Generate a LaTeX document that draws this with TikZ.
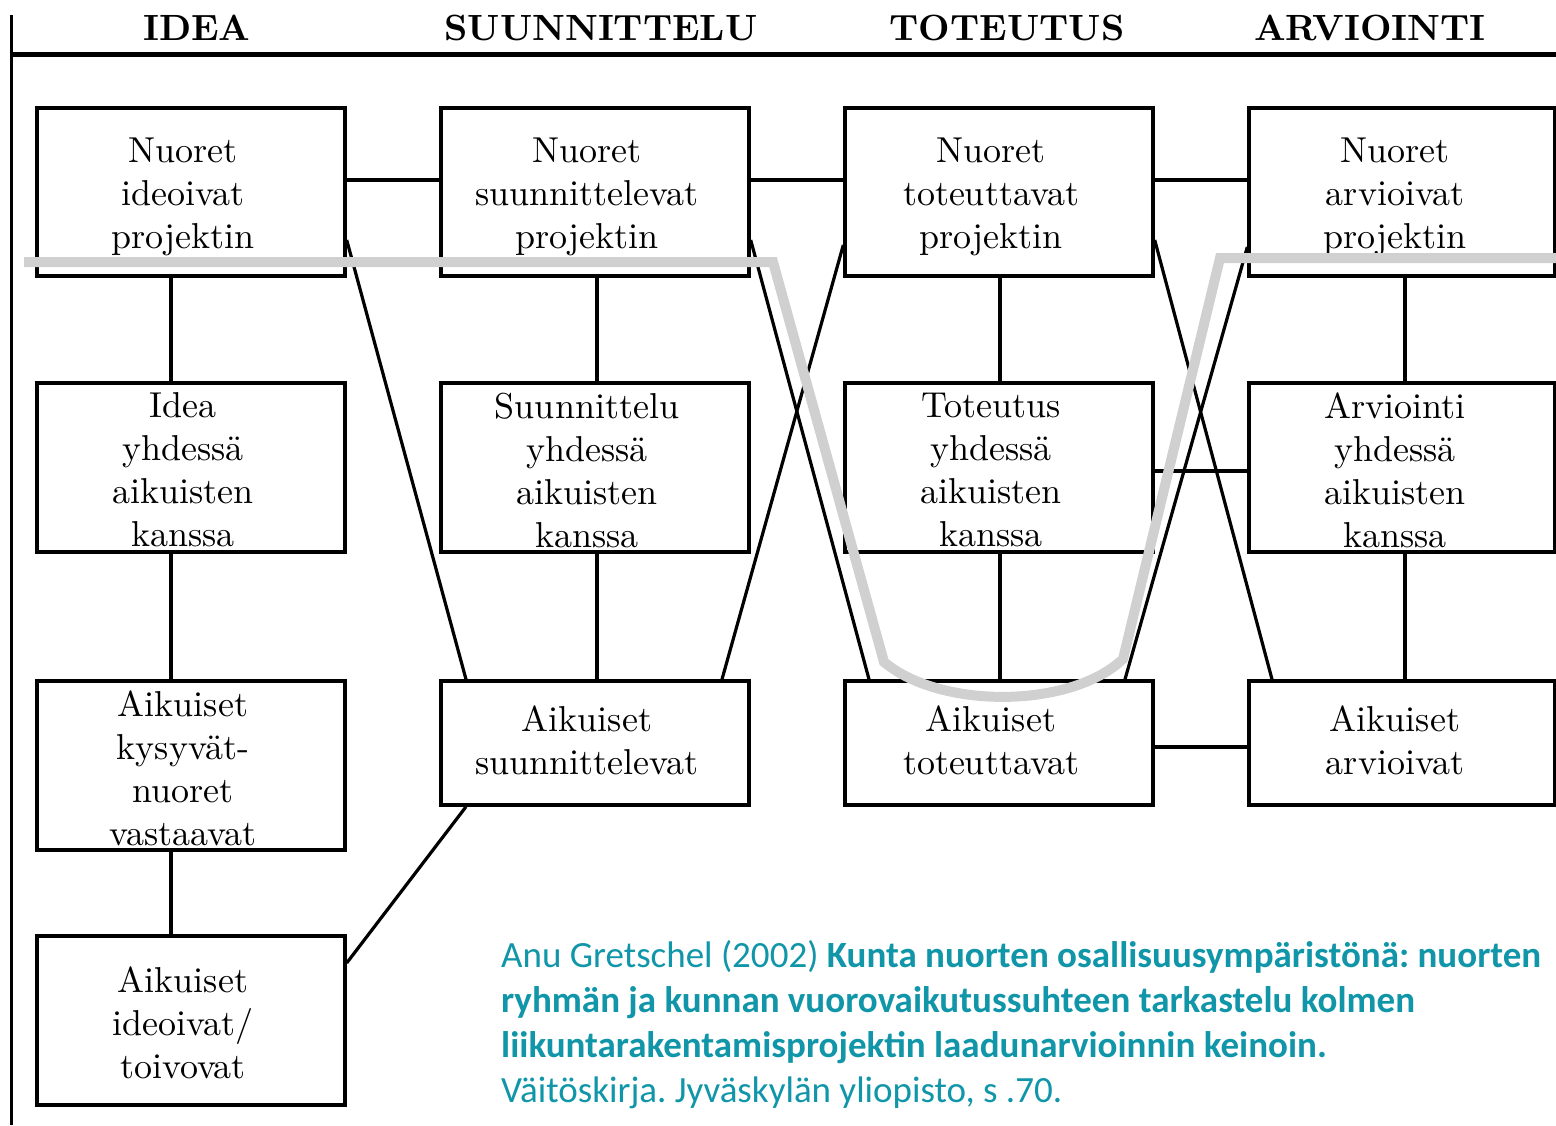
\documentclass[tikz,border=0pt]{standalone}
\usepackage{fontspec}
\newfontfamily\capfont{Carlito}
\newfontfamily\boxfont{lmroman10-regular.otf}[BoldFont=lmroman10-bold.otf]
\definecolor{capteal}{RGB}{16,150,168}
\definecolor{pathgrey}{RGB}{208,208,208}
\frenchspacing
\begin{document}
\begin{tikzpicture}[x=1pt,y=-1pt,
  boxbase/.style={draw, line width=3.4pt, inner sep=0pt, minimum width=308pt},
  boxA/.style={boxbase, minimum height=168pt},
  boxB/.style={boxbase, minimum height=169pt},
  boxC/.style={boxbase, minimum height=124pt},
  narrow/.style={minimum width=306pt},
  txt/.style={align=center, font=\boxfont\fontsize{36}{43}\selectfont, inner sep=0pt},
  conn/.style={line width=3.2pt},
  head/.style={font=\boxfont\fontsize{36.5}{40}\selectfont\bfseries, anchor=base, inner sep=0pt},
  captext/.style={font=\capfont\fontsize{37}{45}\selectfont, text=capteal, anchor=base west, inner sep=0pt}]
\useasboundingbox (0,0) rectangle (1556,1125);

% headers and frame
\node[head] (h1) at (197,40) {IDEA};
\node[head] (h2) at (601,40) {SUUNNITTELU};
\node[head] (h3) at (1007,40) {TOTEUTUS};
\node[head] (h4) at (1370,40) {ARVIOINTI};
\draw[line width=5.5pt] (10,54.5) -- (1556,54.5);
\draw[line width=3pt] (11,15) -- (11,1125);

% column 1
\node[boxA] (a1) at (191,192) {};
\node[txt] (a1t) at (183,197) {Nuoret\\ideoivat\\projektin};
\node[boxB] (a2) at (191,467.5) {};
\node[txt] (a2t) at (183,470) {Idea\\yhdessä\\aikuisten\\kanssa};
\node[boxB] (a3) at (191,765.5) {};
\node[txt] (a3t) at (183,768.5) {Aikuiset\\kysyvät-\\nuoret\\vastaavat};
\node[boxB] (a4) at (191,1020.5) {};
\node[txt] (a4t) at (183,1022.5) {Aikuiset\\ideoivat/\\toivovat};

% column 2
\node[boxA] (b1) at (595,192) {};
\node[txt] (b1t) at (587,197) {Nuoret\\suunnittelevat\\projektin};
\node[boxB] (b2) at (595,467.5) {};
\node[txt] (b2t) at (587,470) {Suunnittelu\\yhdessä\\aikuisten\\kanssa};
\node[boxC] (b3) at (595,743) {};
\node[txt] (b3t) at (587,740.5) {Aikuiset\\suunnittelevat};

% column 3
\node[boxA] (c1) at (999,192) {};
\node[txt] (c1t) at (991,197) {Nuoret\\toteuttavat\\projektin};
\node[boxB] (c2) at (999,467.5) {};
\node[txt] (c2t) at (991,470) {Toteutus\\yhdessä\\aikuisten\\kanssa};
\node[boxC] (c3) at (999,743) {};
\node[txt] (c3t) at (991,740.5) {Aikuiset\\toteuttavat};

% column 4
\node[boxA, narrow] (d1) at (1402,192) {};
\node[txt] (d1t) at (1395,197) {Nuoret\\arvioivat\\projektin};
\node[boxB, narrow] (d2) at (1402,467.5) {};
\node[txt] (d2t) at (1395,470) {Arviointi\\yhdessä\\aikuisten\\kanssa};
\node[boxC, narrow] (d3) at (1402,743) {};
\node[txt] (d3t) at (1395,740.5) {Aikuiset\\arvioivat};

% vertical connectors
\draw[conn] (a1.south -| 171,0) -- (a2.north -| 171,0);
\draw[conn] (a2.south -| 171,0) -- (a3.north -| 171,0);
\draw[conn] (a3.south -| 171,0) -- (a4.north -| 171,0);
\draw[conn] (b1.south -| 597,0) -- (b2.north -| 597,0);
\draw[conn] (b2.south -| 597,0) -- (b3.north -| 597,0);
\draw[conn] (c1.south -| 1000,0) -- (c2.north -| 1000,0);
\draw[conn] (c2.south -| 1000,0) -- (c3.north -| 1000,0);
\draw[conn] (d1.south -| 1405,0) -- (d2.north -| 1405,0);
\draw[conn] (d2.south -| 1405,0) -- (d3.north -| 1405,0);

% horizontal connectors
\draw[conn] (a1.east |- 0,180) -- (b1.west |- 0,180);
\draw[conn] (b1.east |- 0,180) -- (c1.west |- 0,180);
\draw[conn] (c1.east |- 0,180) -- (d1.west |- 0,180);
\draw[conn] (c2.east |- 0,471) -- (d2.west |- 0,471);
\draw[conn] (c3.east |- 0,747) -- (d3.west |- 0,747);

% diagonal connectors
\draw[conn] (a1.east |- 0,240) -- (b3.north -| 466,0);
\draw[conn] (b3.north -| 722,0) -- (c1.west |- 0,245);
\draw[conn] (b1.east |- 0,240) -- (c3.north -| 869,0);
\draw[conn] (c1.east |- 0,240) -- (d3.north -| 1272,0);
\draw[conn] (c3.north -| 1125,0) -- (d1.west |- 0,247);
\draw[conn] (b3.south -| 466,0) -- (a4.east |- 0,963);

% grey path
\draw[pathgrey, line width=10pt, line join=miter]
  (24,262) -- (773,262) -- (884,662)
  .. controls (940,709) and (1070,709) .. (1123,659)
  -- (1220,258) -- (1556,258);

% caption
\node[captext] (cap1) at (501,967) {Anu Gretschel (2002) \textbf{Kunta nuorten osallisuusympäristönä: nuorten}};
\node[captext] (cap2) at (501,1012) {\textbf{ryhmän ja kunnan vuorovaikutussuhteen tarkastelu kolmen}};
\node[captext] (cap3) at (501,1057) {\textbf{liikuntarakentamisprojektin laadunarvioinnin keinoin.}};
\node[captext] (cap4) at (501,1102) {Väitöskirja. Jyväskylän yliopisto, s .70.};
\end{tikzpicture}
\end{document}
